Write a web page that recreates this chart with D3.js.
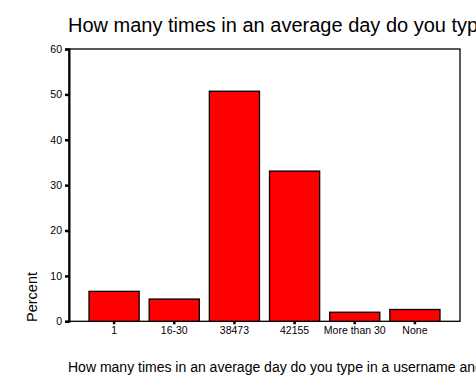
<!DOCTYPE html>
<html>
<head>
<meta charset="utf-8">
<script src="https://cdn.jsdelivr.net/npm/d3@7"></script>
<style>
  body { margin: 0; background: #fff; }
  text { font-family: Arial, "Liberation Sans", sans-serif; fill: #000; }
</style>
</head>
<body>
<div id="chart"></div>
<script>
// data
const categories = ["1", "16-30", "38473", "42155", "More than 30", "None"];
const percents = [6.6, 4.9, 50.7, 33.1, 2.0, 2.6];
const yTicks = [0, 10, 20, 30, 40, 50, 60];
const titleText = "How many times in an average day do you type in a username and password?";

const width = 476;
const height = 389;
const plot = { left: 69, top: 49, right: 460, bottom: 321.3 };

const svg = d3.select("#chart").append("svg")
  .attr("width", width)
  .attr("height", height);

const x = d3.scaleBand()
  .domain(categories)
  .range([plot.left + 15, plot.right - 15])
  .paddingInner(1 / 6)
  .paddingOuter(1 / 12);

const y = d3.scaleLinear()
  .domain([0, 60])
  .range([plot.bottom, plot.top]);

// frame round the plot
svg.append("rect")
  .attr("x", plot.left)
  .attr("y", plot.top)
  .attr("width", plot.right - plot.left)
  .attr("height", plot.bottom - plot.top)
  .attr("fill", "none")
  .attr("stroke", "#000")
  .attr("stroke-width", 1.3);

// bars
svg.selectAll(".bar")
  .data(percents)
  .enter().append("rect")
  .attr("class", "bar")
  .attr("x", (d, i) => x(categories[i]))
  .attr("y", d => y(d))
  .attr("width", x.bandwidth())
  .attr("height", d => y(0) - y(d))
  .attr("fill", "#ff0000")
  .attr("stroke", "#000")
  .attr("stroke-width", 1.3);

// y axis
const yAxis = svg.append("g")
  .attr("transform", `translate(${plot.left},0)`)
  .call(d3.axisLeft(y).tickValues(yTicks).tickSize(4).tickPadding(3));
yAxis.select(".domain").attr("stroke-width", 2);
yAxis.selectAll(".tick line").attr("stroke-width", 2.5);
yAxis.selectAll(".tick text")
  .style("font-size", "10.5px")
  .attr("fill", "#000");

// x axis
const xAxis = svg.append("g")
  .attr("transform", `translate(0,${plot.bottom})`)
  .call(d3.axisBottom(x).tickSize(3).tickPadding(2));
xAxis.select(".domain").remove();
xAxis.selectAll(".tick line").attr("stroke-width", 2.5);
xAxis.selectAll(".tick text")
  .style("font-size", "10.5px")
  .attr("fill", "#000");

// titles (the reference cuts them off at the right edge too)
svg.append("text")
  .attr("x", 68)
  .attr("y", 32)
  .style("font-size", "20px")
  .text(titleText);

svg.append("text")
  .attr("x", 68)
  .attr("y", 372)
  .style("font-size", "14px")
  .text(titleText);

svg.append("text")
  .attr("transform", "translate(36.5,322) rotate(-90)")
  .style("font-size", "14.5px")
  .text("Percent");
</script>
</body>
</html>
